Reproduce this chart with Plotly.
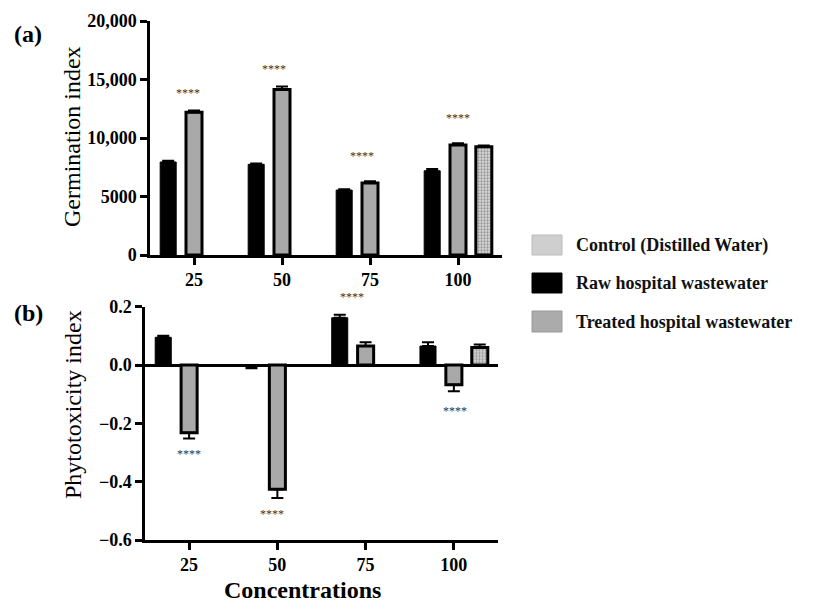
import plotly.graph_objects as go

categories = ["25", "50", "75", "100"]

# (a) Germination index
germ_raw = [7950, 7750, 5550, 7200]
germ_raw_err = [100, 80, 80, 150]
germ_treated = [12200, 14150, 6150, 9400]
germ_treated_err = [150, 250, 150, 150]
germ_control = [None, None, None, 9250]
germ_control_err = [0, 0, 0, 100]
germ_ticks = [0, 5000, 10000, 15000, 20000]
germ_ticktext = ["0", "5000", "10,000", "15,000", "20,000"]
germ_star_x = ["25", "50", "75", "100"]
germ_star_y = [13850, 15900, 8460, 11700]

# (b) Phytotoxicity index
phyto_raw = [0.095, -0.005, 0.162, 0.065]
phyto_raw_err = [0.005, 0.006, 0.01, 0.013]
phyto_treated = [-0.232, -0.426, 0.065, -0.068]
phyto_treated_err = [0.02, 0.03, 0.013, 0.022]
phyto_control = [None, None, None, 0.06]
phyto_control_err = [0, 0, 0, 0.01]
phyto_ticks = [-0.6, -0.4, -0.2, 0.0, 0.2]
phyto_ticktext = ["\u22120.6", "\u22120.4", "\u22120.2", "0.0", "0.2"]
phyto_star_x = ["25", "50", "75", "100"]
phyto_star_y = [-0.306, -0.511, 0.232, -0.159]

legend_labels = ["Control (Distilled Water)", "Raw hospital wastewater", "Treated hospital wastewater"]

# page body has an 8px margin; figure sized to fill the rest of the window
OFF = 8
W, H = 816 - OFF, 605 - OFF
FONT = "Liberation Serif"
GRAY = "#a9a9a9"

TOP_Y = (21, 255)       # pixel rows of 20000 and 0
BOT_Y = (306.7, 540)    # pixel rows of 0.2 and -0.6
GERM_RANGE = [0, 20000]
PHYTO_RANGE = [-0.6, 0.2]


def px_x(p):
    return (p - OFF) / W


def px_y(p):
    return 1 - (p - OFF) / H


def one_sided(vals, errs):
    up, down = [], []
    for v, e in zip(vals, errs):
        if v is None:
            up.append(0); down.append(0)
        elif v >= 0:
            up.append(e); down.append(0)
        else:
            up.append(0); down.append(e)
    return up, down


def err(vals, errs):
    up, down = one_sided(vals, errs)
    return dict(type="data", symmetric=False, array=up, arrayminus=down,
                color="black", thickness=2, width=6)


fig = go.Figure()

specs = [
    ("x", "y", germ_raw, germ_raw_err, germ_treated, germ_treated_err, germ_control, germ_control_err),
    ("x2", "y2", phyto_raw, phyto_raw_err, phyto_treated, phyto_treated_err, phyto_control, phyto_control_err),
]
for xa, ya, raw, raw_e, trt, trt_e, ctl, ctl_e in specs:
    fig.add_trace(go.Bar(x=categories, y=raw, xaxis=xa, yaxis=ya, name=legend_labels[1],
                         marker=dict(color="black", line=dict(color="black", width=1)),
                         error_y=err(raw, raw_e), showlegend=False))
    fig.add_trace(go.Bar(x=categories, y=trt, xaxis=xa, yaxis=ya, name=legend_labels[2],
                         marker=dict(color=GRAY, line=dict(color="black", width=3)),
                         error_y=err(trt, trt_e), showlegend=False))
    fig.add_trace(go.Bar(x=categories, y=ctl, xaxis=xa, yaxis=ya, name=legend_labels[0],
                         marker=dict(color="#d8d8d8", line=dict(color="black", width=3),
                                     pattern=dict(shape=".", fgcolor="#555555", bgcolor="#d8d8d8",
                                                  size=3, solidity=0.45)),
                         error_y=err(ctl, ctl_e), showlegend=False))

tickfont = dict(family=FONT, size=18, color="black", weight="bold")
axis_common = dict(showline=True, linecolor="black", linewidth=2.5, ticks="outside",
                   ticklen=7, tickwidth=2.5, tickcolor="black", showgrid=False,
                   tickfont=tickfont, mirror=False, automargin=False)

fig.update_layout(
    width=W, height=H, margin=dict(l=0, r=0, t=0, b=0, pad=0, autoexpand=False),
    paper_bgcolor="white", plot_bgcolor="white",
    barmode="group", bargap=0.12, bargroupgap=0.38,
    showlegend=False,
    xaxis=dict(domain=[px_x(150), px_x(502)], anchor="y", type="category",
               range=[-0.5, 3.5], **axis_common),
    yaxis=dict(domain=[px_y(TOP_Y[1]), px_y(TOP_Y[0])], anchor="x", range=GERM_RANGE,
               tickvals=germ_ticks, ticktext=germ_ticktext, zeroline=False, **axis_common),
    xaxis2=dict(domain=[px_x(145), px_x(498)], anchor="y2", type="category",
                range=[-0.5, 3.5], **axis_common),
    yaxis2=dict(domain=[px_y(BOT_Y[1]), px_y(BOT_Y[0])], anchor="x2", range=PHYTO_RANGE,
                tickvals=phyto_ticks, ticktext=phyto_ticktext,
                zeroline=True, zerolinecolor="black", zerolinewidth=2.5, **axis_common),
)


# significance stars (category index used so "25" is not read as a number;
# positions beyond the axis range are clamped and shifted in pixels instead)
def add_stars(xs_cat, ys, shifts, xref, yref, rng, pix):
    ppu = (pix[1] - pix[0]) / (rng[1] - rng[0])
    for xv, yv, xs in zip(xs_cat, ys, shifts):
        yc = min(max(yv, rng[0]), rng[1])
        fig.add_annotation(x=categories.index(xv), y=yc, xref=xref, yref=yref, text="****",
                           showarrow=False, font=dict(family=FONT, size=12, color="#333333"),
                           xshift=xs, yshift=(yv - yc) * ppu,
                           xanchor="center", yanchor="middle")


add_stars(germ_star_x, germ_star_y, [-6, -8, -8, 0], "x", "y", GERM_RANGE, TOP_Y)
add_stars(phyto_star_x, phyto_star_y, [0, -5, -14, 1], "x2", "y2", PHYTO_RANGE, BOT_Y)


# panel labels and axis titles
def label(x, y, text, size, angle=0, anchor="center", color="black"):
    fig.add_annotation(x=px_x(x), y=px_y(y), xref="paper", yref="paper", text=text,
                       textangle=angle, showarrow=False, xanchor=anchor, yanchor="middle",
                       font=dict(family=FONT, size=size, color=color))


label(28, 34, "<b>(a)</b>", 24)
label(28, 313, "<b>(b)</b>", 24)
label(72, 137, "Germination index", 24, -90)
label(73, 405, "Phytotoxicity index", 24, -90)
label(302, 590, "<b>Concentrations</b>", 24)

# legend drawn manually
sw_rows = [(235, 255), (273, 293), (311, 332)]
sw_styles = [
    dict(fillcolor="#cfcfcf", line=dict(color="#bbbbbb", width=1)),
    dict(fillcolor="black", line=dict(color="black", width=1)),
    dict(fillcolor="#ababab", line=dict(color="#999999", width=1)),
]
for (y0, y1), st, lab in zip(sw_rows, sw_styles, legend_labels):
    fig.add_shape(type="rect", xref="paper", yref="paper", x0=px_x(532), x1=px_x(562),
                  y0=px_y(y1), y1=px_y(y0), **st)
    label(574, (y0 + y1) / 2, "<b>" + lab + "</b>", 18, anchor="left", color="#111111")

fig.write_html("out.html")
